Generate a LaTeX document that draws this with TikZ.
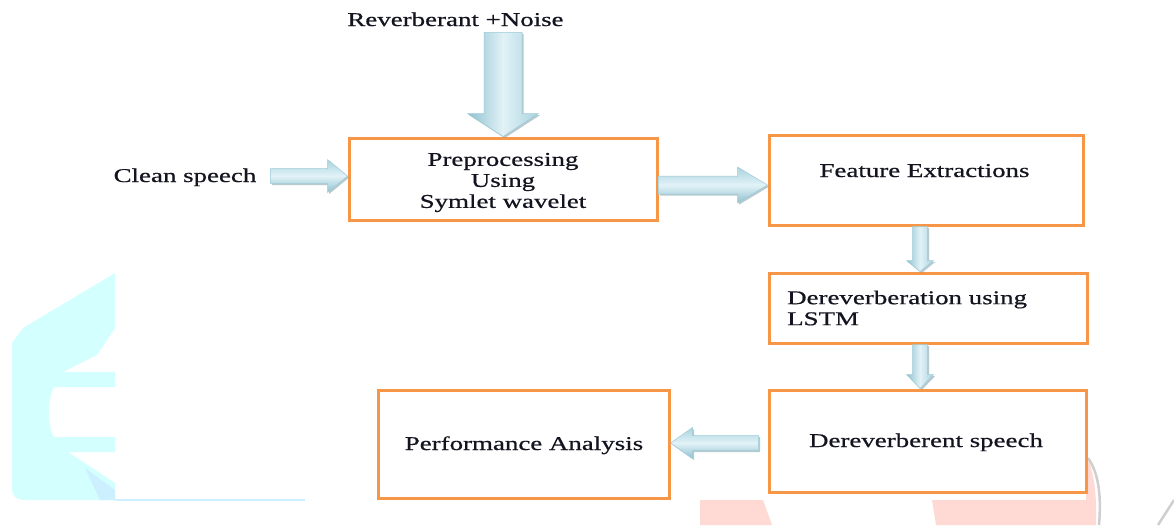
\documentclass[tikz,border=0pt]{standalone}
\usepackage{fontspec}
\setmainfont{Liberation Serif}[FakeStretch=1.38, FakeBold=0.6]
\usetikzlibrary{calc}
\definecolor{boxorange}{HTML}{F79646}
\definecolor{arrlight}{HTML}{E2F2F7}
\definecolor{arredge}{HTML}{A9D3DF}
\definecolor{arrdark}{HTML}{8FC1D0}
\definecolor{arrline}{HTML}{9CCBD8}
\definecolor{arrshadow}{HTML}{7F9FAA}
\definecolor{wmcyan}{HTML}{D4FFFF}
\definecolor{wmcyanb}{HTML}{CCF0FF}
\definecolor{wmpink}{HTML}{FFD9D4}
\definecolor{wmgrey}{HTML}{CFCFCF}
\definecolor{txtcol}{HTML}{141420}
\tikzset{
  boxnode/.style={draw=boxorange, line width=3pt, fill=white, inner sep=0pt},
  txt/.style={inner sep=0pt, text=txtcol, font=\fontsize{19.5}{21}\selectfont},
  harr/.style={top color=arredge, bottom color=arrdark, middle color=arrlight, draw=arrline, line width=0.5pt},
  varr/.style={left color=arrdark, right color=arredge, middle color=arrlight, draw=arrline, line width=0.5pt},
}
% #1 style, #2 tail, #3 tip, #4 half shaft width, #5 half head width, #6 head length
\newcommand{\blockarr}[6]{%
  \coordinate (hb) at ($#3!#6!#2$);
  \path[fill=arrshadow, fill opacity=0.55, transform canvas={shift={(1.6pt,-1.6pt)}}]
    ($#2!#4!90:#3$) -- ($(hb)!#4!90:#3$) -- ($(hb)!#5!90:#3$) -- #3 --
    ($(hb)!#5!-90:#3$) -- ($(hb)!#4!-90:#3$) -- ($#2!#4!-90:#3$) -- cycle;
  \path[#1]
    ($#2!#4!90:#3$) -- ($(hb)!#4!90:#3$) -- ($(hb)!#5!90:#3$) -- #3 --
    ($(hb)!#5!-90:#3$) -- ($(hb)!#4!-90:#3$) -- ($#2!#4!-90:#3$) -- cycle;
}
\begin{document}
\begin{tikzpicture}[x=1pt, y=-1pt]
\useasboundingbox (0,0) rectangle (1174,525);
\fill[white] (0,0) rectangle (1174,525);

% watermark (left, cyan)
\fill[wmcyan] (115,273) -- (115,328) -- (97,355) -- (63,372) -- (115,372) -- (115,387)
  -- (54,387) .. controls (47,400) and (47,425) .. (54,437) -- (115,437) -- (115,452)
  -- (68,452) -- (115,483) -- (115,500) -- (25,500) .. controls (16,500) and (12,496) .. (12,488)
  -- (12,343) -- (23,328) -- cycle;
\fill[wmcyanb] (85,468) -- (115,490) -- (115,500) -- (100,500) -- cycle;
\draw[wmcyanb, line width=1.5pt] (115,500) -- (305,500);
% watermark (bottom right, pink/grey)
\fill[wmpink] (700,500) -- (763,500) -- (772,525) -- (700,525) -- cycle;
\fill[wmpink] (932,500) -- (1086,500) -- (1086,455) .. controls (1094,470) and (1097,495) .. (1096,525) -- (936,525) -- cycle;
\draw[wmgrey, line width=2.5pt] (1088,458) .. controls (1100,475) and (1101,500) .. (1099,525);
\draw[wmgrey, line width=2.5pt] (1174,500) -- (1158,525);

% boxes
\node[boxnode, minimum width=308pt, minimum height=82pt] (pre) at (503,179) {};
\node[boxnode, minimum width=314pt, minimum height=90pt] (fe) at (926,180) {};
\node[boxnode, minimum width=318pt, minimum height=70pt] (dl) at (928,308) {};
\node[boxnode, minimum width=317pt, minimum height=102pt] (ds) at (927.5,441) {};
\node[boxnode, minimum width=291pt, minimum height=108pt] (pa) at (523.5,444) {};

% texts
\node[txt, anchor=base] (rv) at (455.5,26) {Reverberant +Noise};
\node[txt, anchor=base] (cs) at (185,182) {Clean speech};
\node[txt, align=center, anchor=center] (pret) at (503,182.5) {Preprocessing\\Using\\Symlet wavelet};
\node[txt, anchor=base] (fet) at (924.5,177) {Feature Extractions};
\node[txt, align=left, anchor=west] (dlt) at (787,308) {Dereverberation using\\LSTM};
\node[txt, anchor=base] (dst) at (926,447) {Dereverberent speech};
\node[txt, anchor=base] (pat) at (524,450) {Performance Analysis};

% block arrows
\coordinate (rva) at ($(pre.north |- rv.south)+(0,6)$);
\blockarr{varr}{(rva)}{(pre.north)}{19pt}{35.5pt}{23pt}
\coordinate (csa) at ($(cs.east |- 0,176)+(14,0)$);
\blockarr{harr}{(csa)}{(pre.west |- csa)}{7.5pt}{16.5pt}{20pt}
\coordinate (pfa) at (pre.east |- 0,185);
\blockarr{harr}{(pfa)}{(fe.west |- pfa)}{9pt}{18pt}{30pt}
\coordinate (fda) at (920,0 |- fe.south);
\blockarr{varr}{(fda)}{(fda |- dl.north)}{7.5pt}{13.5pt}{11pt}
\coordinate (dda) at (920,0 |- dl.south);
\blockarr{varr}{(dda)}{(dda |- ds.north)}{7.5pt}{13.5pt}{14pt}
\coordinate (dpa) at ($(ds.west |- 0,443)+(-9,0)$);
\blockarr{harr}{(dpa)}{(pa.east |- dpa)}{7.5pt}{15.5pt}{22pt}
\end{tikzpicture}
\end{document}
